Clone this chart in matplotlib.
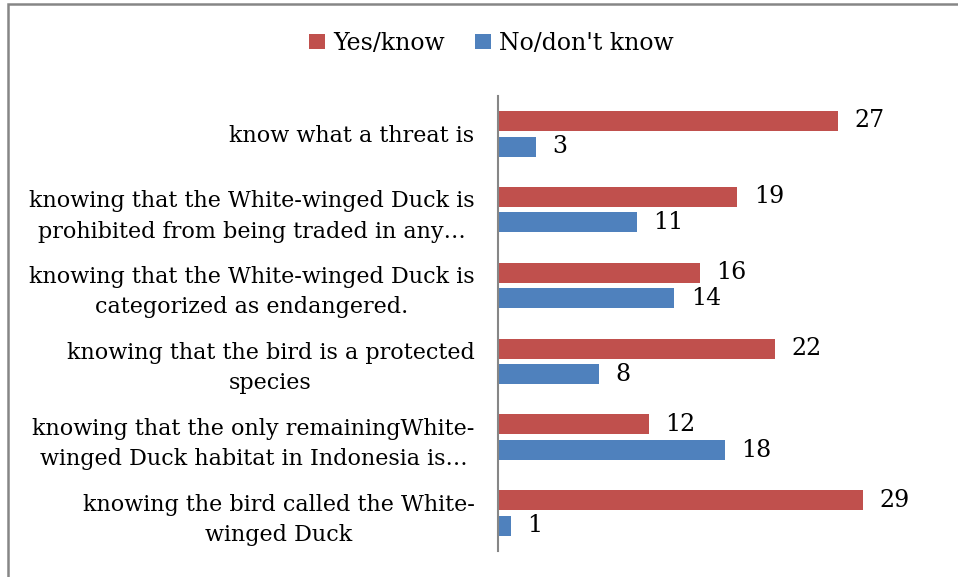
import matplotlib.pyplot as plt
from matplotlib.patches import Rectangle

plt.rc('font', family='DejaVu Serif')

# survey answers, top item first
questions = ['know what a threat is',
             'knowing that the White-winged Duck is\nprohibited from being traded in any…',
             'knowing that the White-winged Duck is\ncategorized as endangered.',
             'knowing that the bird is a protected\nspecies',
             'knowing that the only remainingWhite-\nwinged Duck habitat in Indonesia is…',
             'knowing the bird called the White-\nwinged Duck']
yes_know = [27, 19, 16, 22, 12, 29]
no_know = [3, 11, 14, 8, 18, 1]

red = '#C0504D'
blue = '#4F81BD'
h = 0.264   # bar thickness
off = 0.169  # shift of each bar from the category centre

fig = plt.figure(figsize=(9.58, 5.77), dpi=100)
ax = fig.add_axes([0.52, 0.045, 0.46, 0.789])

pos = list(range(len(questions)))
ax.barh([p - off for p in pos], yes_know, height=h, color=red, label='Yes/know')
ax.barh([p + off for p in pos], no_know, height=h, color=blue, label="No/don't know")

for p, v in zip(pos, yes_know):
    ax.text(v + 1.3, p - off, str(v), va='center', ha='left', fontsize=17)
for p, v in zip(pos, no_know):
    ax.text(v + 1.3, p + off, str(v), va='center', ha='left', fontsize=17)

ax.set_xlim(0, 35)
ax.set_ylim(len(questions) - 0.5, -0.5)
ax.set_yticks(pos)
ax.set_yticklabels(questions, fontsize=16, linespacing=1.5, multialignment='center')
ax.tick_params(axis='y', length=0, pad=17)
ax.set_xticks([])
for s in ['top', 'right', 'bottom']:
    ax.spines[s].set_visible(False)
ax.spines['left'].set_color('#868686')
ax.spines['left'].set_linewidth(1.5)

fig.legend(loc='center', bbox_to_anchor=(0.513, 0.925), ncol=2, frameon=False,
           fontsize=17, handlelength=0.65, handleheight=0.65, columnspacing=1.3,
           handletextpad=0.35)

# chart frame
fig.patches.append(Rectangle((7.5 / 958, -0.1), 1.2, 1.1 - 4 / 577,
                             transform=fig.transFigure, fill=False,
                             edgecolor='#868686', linewidth=1.8))

fig.savefig('out.png', dpi=100)
